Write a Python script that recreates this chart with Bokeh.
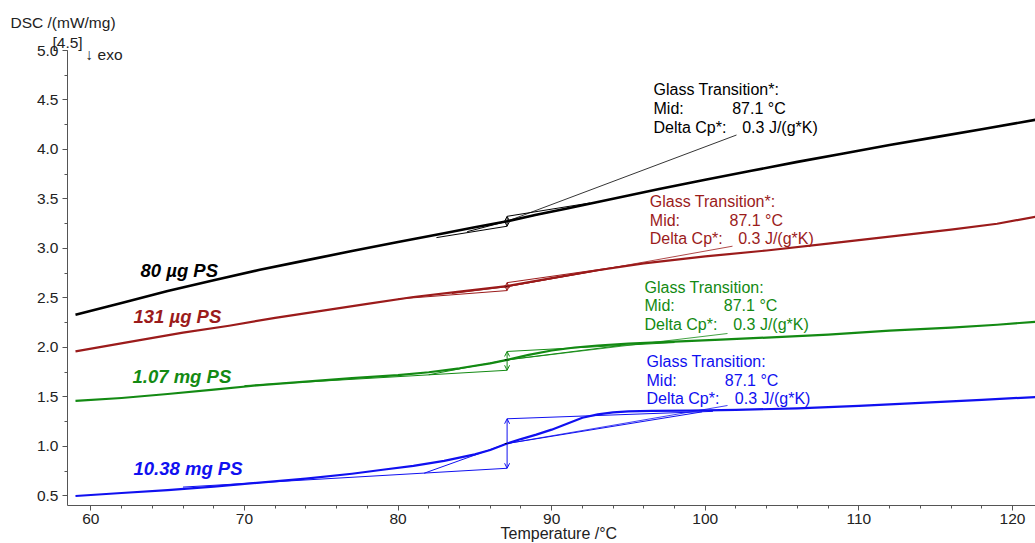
from bokeh.plotting import figure
from bokeh.models import Range1d, Label, Arrow, OpenHead, SingleIntervalTicker, PrintfTickFormatter, Title
from bokeh.embed import file_html
from bokeh.resources import INLINE

# ---------------- data ----------------
sample_names = ["80 µg PS", "131 µg PS", "1.07 mg PS", "10.38 mg PS"]
colors = ["#000000", "#9b1b1b", "#138a13", "#1010f0"]

temp_80ug = [59, 62, 65, 68, 71, 74, 77, 80, 83, 85, 87.1, 89, 91, 93, 95, 97, 100, 103, 106, 109, 112, 115, 118, 121.5]
dsc_80ug = [2.33, 2.45, 2.57, 2.68, 2.785, 2.88, 2.975, 3.065, 3.155, 3.215, 3.275, 3.34, 3.405, 3.47, 3.535, 3.60,
            3.695, 3.785, 3.875, 3.96, 4.045, 4.125, 4.205, 4.30]

temp_131ug = [59, 63, 66, 69, 72, 75, 78, 81, 84, 87.1, 90, 93, 96, 100, 104, 108, 112, 116, 119, 121.5]
dsc_131ug = [1.96, 2.07, 2.15, 2.22, 2.30, 2.37, 2.44, 2.51, 2.565, 2.62, 2.70, 2.78, 2.85, 2.92, 2.98, 3.05,
             3.12, 3.19, 3.25, 3.32]

temp_107mg = [59, 62, 65, 68, 71, 74, 77, 80, 82, 84, 86, 87.1, 88.5, 90, 91.5, 93, 95, 98, 101, 104, 108, 112, 116,
              119, 121.5]
dsc_107mg = [1.46, 1.49, 1.53, 1.575, 1.62, 1.655, 1.69, 1.72, 1.75, 1.79, 1.84, 1.875, 1.925, 1.97, 2.00, 2.02,
             2.04, 2.06, 2.08, 2.10, 2.13, 2.17, 2.20, 2.23, 2.26]

temp_1038mg = [59, 62, 65, 68, 71, 74, 77, 79, 81, 83, 85, 86, 87.1, 88, 89, 90, 91, 92, 93, 94, 95, 96.5, 99, 102,
               106, 110, 114, 118, 121.5]
dsc_1038mg = [0.50, 0.53, 0.56, 0.595, 0.635, 0.675, 0.725, 0.765, 0.805, 0.855, 0.92, 0.965, 1.03, 1.075, 1.12,
              1.17, 1.23, 1.29, 1.325, 1.345, 1.355, 1.36, 1.362, 1.37, 1.385, 1.41, 1.44, 1.47, 1.50]

# glass transition evaluation (per sample)
tg_mid = 87.1
tg_text = ["Glass Transition*:", "Glass Transition*:", "Glass Transition:", "Glass Transition:"]
tg_mid_text = "87.1 °C"
tg_dcp_text = "0.3 J/(g*K)"
mid_values = [3.275, 2.615, 1.875, 1.03]
step_low = [3.225, 2.575, 1.77, 0.78]
step_high = [3.325, 2.655, 1.96, 1.28]
base_low_start_T = [82.5, 80.0, 70.0, 66.0]
base_low_start_v = [3.11, 2.49, 1.615, 0.59]
onset_T = [84.5, 83.5, 82.0, 81.7]
onset_v = [3.17, 2.545, 1.725, 0.73]
end_T = [91.0, 93.5, 94.5, 99.8]
end_v = [3.405, 2.79, 2.02, 1.35]
base_high_end_T = [92.5, 95.0, 98.0, 100.5]
base_high_end_v = [3.46, 2.83, 2.05, 1.355]

temps = [temp_80ug, temp_131ug, temp_107mg, temp_1038mg]
dscs = [dsc_80ug, dsc_131ug, dsc_107mg, dsc_1038mg]

# ---------------- layout ----------------
W, H = 1035, 543
X0, X1 = 58.48, 121.50
Y0, Y1 = 0.404, 5.0
FL, FW = 67, 968      # frame left / width in page pixels
FT, FH = 50, 455      # frame top / height in page pixels


def X(px):
    return X0 + (px - FL) * (X1 - X0) / FW


def Y(py):
    return Y1 - (py - FT) * (Y1 - Y0) / FH


FONT = "Liberation Sans"
TXT = "#222222"

p = figure(width=W, height=H, output_backend="svg", toolbar_location=None,
           x_range=Range1d(X0, X1), y_range=Range1d(Y0, Y1),
           min_border_left=FL, min_border_right=W - FL - FW, min_border_top=FT,
           min_border_bottom=H - FT - FH)
p.outline_line_color = None
p.xgrid.visible = False
p.ygrid.visible = False
p.background_fill_color = "white"
p.border_fill_color = "white"

for ax in (p.xaxis[0], p.yaxis[0]):
    ax.axis_line_color = "#555555"
    ax.major_tick_line_color = "#555555"
    ax.minor_tick_line_color = "#555555"
    ax.major_tick_in = 0
    ax.major_tick_out = 5
    ax.minor_tick_in = 0
    ax.minor_tick_out = 3
    ax.major_label_text_font = FONT
    ax.major_label_text_font_size = "15.5px"
    ax.major_label_text_color = TXT
    ax.major_label_standoff = 4

p.xaxis[0].major_label_standoff = 3
p.xaxis[0].ticker = SingleIntervalTicker(interval=10, num_minor_ticks=5)
p.yaxis[0].ticker = SingleIntervalTicker(interval=0.5, num_minor_ticks=2)
p.yaxis[0].formatter = PrintfTickFormatter(format="%.1f")

# titles outside the frame
p.add_layout(Title(text="[4.5]", align="left", offset=52 - FL, standoff=0, text_font=FONT,
                   text_font_size="15.5px", text_font_style="normal", text_color=TXT), "above")
p.add_layout(Title(text="DSC /(mW/mg)", align="left", offset=10 - FL, standoff=2, text_font=FONT,
                   text_font_size="15.5px", text_font_style="normal", text_color=TXT), "above")
p.add_layout(Title(text="Temperature /°C", align="left", offset=500 - FL, standoff=-7, text_font=FONT,
                   text_font_size="16px", text_font_style="normal", text_color=TXT), "below")

# curves
widths = [2.6, 2.2, 2.2, 2.2]
for T, v, c, w in zip(temps, dscs, colors, widths):
    p.line(T, v, line_color=c, line_width=w, line_join="round")

# glass transition constructions
leader_px = [(736, 134.5), (732, 245.7), (727, 333), (727, 405)]
text_px = [(653, 89, 731.7, 741.7, 19), (649.3, 200.7, 729, 737.7, 18.8),
           (644, 286.7, 723.3, 732.7, 18.7), (646, 360.7, 724.3, 734.3, 18.8)]
for i, c in enumerate(colors):
    p.line([base_low_start_T[i], tg_mid], [base_low_start_v[i], step_low[i]], line_color=c, line_width=1)
    p.line([tg_mid, base_high_end_T[i]], [step_high[i], base_high_end_v[i]], line_color=c, line_width=1)
    p.line([onset_T[i], tg_mid, end_T[i]], [onset_v[i], mid_values[i], end_v[i]], line_color=c, line_width=1)
    p.add_layout(Arrow(x_start=tg_mid, y_start=step_low[i], x_end=tg_mid, y_end=step_high[i],
                       line_color=c, line_width=1,
                       start=OpenHead(size=5, line_color=c, line_width=1),
                       end=OpenHead(size=5, line_color=c, line_width=1)))
    p.line([tg_mid - 0.15, tg_mid + 0.15], [mid_values[i], mid_values[i]], line_color="black", line_width=1)
    lx, ly = leader_px[i]
    p.line([tg_mid, X(lx)], [mid_values[i], Y(ly)], line_color=c, line_width=0.8)
    tx, ty, mx, dx, dy = text_px[i]
    for txt, xx, yy in [(tg_text[i], tx, ty), ("Mid:", tx, ty + dy), (tg_mid_text, mx, ty + dy),
                        ("Delta Cp*:", tx, ty + 2 * dy), (tg_dcp_text, dx, ty + 2 * dy)]:
        p.add_layout(Label(x=X(xx), y=Y(yy), text=txt, text_color=c, text_font=FONT,
                           text_font_size="16px", text_baseline="middle", text_align="left"))

# sample labels
sample_px = [(140, 270), (133, 316), (132, 376), (133, 468)]
for name, c, (sx, sy) in zip(sample_names, colors, sample_px):
    p.add_layout(Label(x=X(sx), y=Y(sy), text=name, text_color=c, text_font=FONT,
                       text_font_size="18.5px", text_font_style="bold italic",
                       text_baseline="middle", text_align="left"))

p.add_layout(Label(x=X(85), y=Y(54), text="↓ exo", text_color=TXT, text_font=FONT,
                   text_font_size="15.5px", text_baseline="middle", text_align="left"))

open("out.html", "w").write(file_html(p, INLINE))
